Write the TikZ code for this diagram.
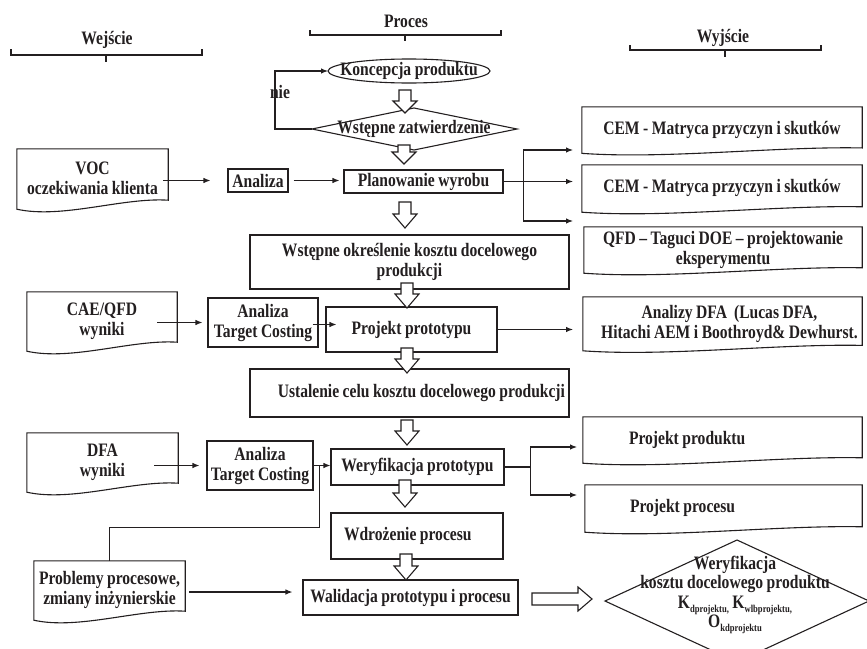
\documentclass[tikz,border=0pt]{standalone}
\usepackage{fontspec}
\setmainfont{Liberation Serif}[FakeStretch=0.82, WordSpace=0.9]
\usetikzlibrary{arrows.meta,calc,shapes.geometric}
\definecolor{ink}{HTML}{231F20}
\newcommand\sbb[1]{\raisebox{-0.45ex}{\fontsize{10.5}{10.5}\selectfont #1}}
% document outline with wavy bottom: #1 node name, #2 wave scale
\newcommand\docshape[2]{%
  \draw[line, line join=miter] ($(#1.south east)+(0,{-8*#2})$) -- (#1.north east) -- (#1.north west) -- ($(#1.south west)+(0,{1*#2})$)
  .. controls ($(#1.south west)!0.3!(#1.south east)+(0,{11*#2})$) and ($(#1.south west)!0.7!(#1.south east)+(0,{-11*#2})$) .. ($(#1.south east)+(0,{-8*#2})$) -- cycle;}
% hollow block arrow pointing down: x, top, tip, head length
\newcommand\blockdown[4]{%
  \draw[hollow] ({#1-6},#2) -- ({#1+6},#2) -- ({#1+6},{#3-#4}) -- ({#1+12},{#3-#4}) -- (#1,#3) -- ({#1-12},{#3-#4}) -- ({#1-6},{#3-#4}) -- cycle;}
\begin{document}
\begin{tikzpicture}[x=1pt,y=-1pt,
  font=\fontsize{19}{20}\selectfont\bfseries,
  every node/.style={text=ink},
  line/.style={draw=ink, line width=1.1pt},
  arr/.style={line, -{Latex[length=7pt,width=5.5pt]}},
  hollow/.style={draw=ink, line width=1.1pt, fill=white, line join=miter},
  brace/.style={draw=ink, line width=2.2pt},
  box/.style={line, fill=white, inner sep=2pt, align=center},
  docn/.style={inner sep=0pt, align=center}]
\useasboundingbox (0,0) rectangle (867,648);
\fill[white] (0,0) rectangle (867,648);
\clip (0,0) rectangle (867,648);

% headers
\node (hW) at (107,40) {Wejście};
\node (hP) at (406,21) {Proces};
\node (hY) at (723,38) {Wyjście};
\draw[brace] (11,49) -- (11,55) -- (202,55) -- (202,49);
\draw[brace] (106,55) -- (106,62);
\draw[brace] (310,30) -- (310,35) -- (501,35) -- (501,30);
\draw[brace] (405,35) -- (405,41);
\draw[brace] (630,45) -- (630,50) -- (821,50) -- (821,45);
\draw[brace] (725,50) -- (725,57);

% concept ellipse and approval diamond
\node (kon) at (409,71) {Koncepcja produktu};
\draw[line] (kon.center) ellipse [x radius=81, y radius=12];
\coordinate (konL) at ($(kon.center)+(-81,0)$);
\node (dz) at (414,129) {Wstępne zatwierdzenie};
\coordinate (dzL) at ($(dz.center)+(-102,0)$);
\draw[line, line join=miter] (dzL) -- ($(dz.center)+(0,-21)$) -- ($(dz.center)+(103,0)$) -- ($(dz.center)+(0,21)$) -- cycle;
\draw[arr] (dzL) -- ++(-37,0) |- (konL);
\node (nie) at (280,92) {nie};

% process boxes
\node[box, minimum width=60pt, minimum height=23pt, inner sep=1pt] (an) at (258,180.5) {Analiza};
\node[box, minimum width=159pt, minimum height=23pt] (plan) at (423.5,181.5) {Planowanie wyrobu};
\node[box, minimum width=319pt, minimum height=54pt] (wok) at (409.5,262) {Wstępne określenie kosztu docelowego\\produkcji};
\node[box, minimum width=110pt, minimum height=49pt, inner sep=1pt] (atc1) at (263,322.5) {Analiza\\Target Costing};
\node[box, minimum width=171pt, minimum height=45pt] (proj) at (411.5,329.5) {Projekt prototypu};
\node[box, minimum height=48pt, text width=311pt, inner xsep=4pt, align=flush right] (ust) at (409.5,393) {Ustalenie celu kosztu docelowego produkcji};
\node[box, minimum width=106pt, minimum height=49pt, inner sep=1pt] (atc2) at (260,465.5) {Analiza\\Target Costing};
\node[box, minimum width=173pt, minimum height=36pt] (wer) at (417.5,467) {Weryfikacja prototypu};
\node[box, minimum height=46pt, text width=146pt, inner xsep=13pt, align=flush left] (wdr) at (417,536) {Wdrożenie procesu};
\node[box, minimum width=215pt, minimum height=35pt] (wal) at (410.5,597.5) {Walidacja prototypu i procesu};

% input documents
\node[docn, minimum width=151pt, minimum height=59pt] (voc) at (92.5,178.5) {VOC\\oczekiwania klienta};
\node[docn, minimum width=150pt, minimum height=58pt] (cae) at (102,321) {CAE/QFD\\wyniki};
\node[docn, minimum width=151pt, minimum height=58pt] (dfa) at (102.5,462) {DFA\\wyniki};
\node[docn, minimum width=151pt, minimum height=58pt] (prob) at (109.5,590) {Problemy procesowe,\\zmiany inżynierskie};
\docshape{voc}{1}
\docshape{cae}{1}
\docshape{dfa}{1}
\docshape{prob}{1}

% output documents
\node[docn, minimum width=280pt, minimum height=45.5pt] (cem1) at (722,129.8) {CEM - Matryca przyczyn i skutków};
\node[docn, minimum width=280pt, minimum height=46.4pt] (cem2) at (722,188.2) {CEM - Matryca przyczyn i skutków};
\node[docn, minimum width=278pt, minimum height=45.4pt] (qfd) at (723,249.7) {QFD – Taguci DOE – projektowanie\\eksperymentu};
\node[docn, minimum width=279pt, minimum height=53pt] (dfaA) at (722.5,323.5) {\hspace*{14pt}Analizy DFA\ \ (Lucas DFA,\\\hspace*{14pt}Hitachi AEM i Boothroyd\&~Dewhurst.};
\node[docn, minimum height=45.4pt, text width=187pt, inner xsep=46pt, align=flush left] (pprod) at (722.5,439.7) {Projekt produktu};
\node[docn, minimum height=46.4pt, text width=187pt, inner xsep=45pt, align=flush left] (pproc) at (723.5,508.2) {Projekt procesu};
\docshape{cem1}{0.6}
\docshape{cem2}{0.6}
\docshape{qfd}{0.6}
\docshape{dfaA}{0.6}
\docshape{pprod}{0.6}
\docshape{pproc}{0.6}

% final verification diamond
\coordinate (vd) at (737,601);
\draw[line, line join=miter] ($(vd)+(-132,0)$) -- ($(vd)+(0,-61)$) -- ($(vd)+(132,0)$) -- ($(vd)+(0,61)$) -- cycle;
\node[align=center, font=\fontsize{19}{19.5}\selectfont\bfseries] (vk) at (735,595) {Weryfikacja\\kosztu docelowego produktu\\K\sbb{dprojektu,} K\sbb{wlbprojektu,}\\O\sbb{kdprojektu}};

% connectors
\draw[arr] ($(voc.east |- an.west)+(-5,0)$) -- ($(an.west)+(-17,0)$);
\draw[arr] ($(an.east)+(5,0)$) -- ($(an.east -| plan.west)+(-4,0)$);
\coordinate (sp1) at ($(plan.east)+(20,0)$);
\coordinate (o1) at (573,150);
\coordinate (o3) at (573,221);
\draw[line] (plan.east) -- (sp1);
\draw[arr] (sp1) |- (o1);
\draw[arr] (sp1) -- (sp1 -| o1);
\draw[arr] (sp1) |- (o3);
\draw[arr] ($(cae.east |- atc1.west)+(-20,0)$) -- ($(atc1.west)+(-5,0)$);
\draw[arr] ($(atc1.east)+(-6,2)$) -- ($(atc1.east -| proj.west)+(11,2)$);
\draw[arr] (proj.east) -- (proj.east -| o1);
\draw[arr] ($(dfa.east |- atc2.west)+(-24,0)$) -- ($(atc2.west)+(-7,0)$);
\coordinate (j2) at ($(atc2.east)+(6,0)$);
\draw[arr] (atc2.east) -- (atc2.east -| wer.west);
\draw[line] (prob.north) -- ++(0,-33) -| (j2);
\coordinate (sp2) at ($(wer.east)+(26,0)$);
\coordinate (o5) at (577,447);
\coordinate (o6) at (577,495);
\draw[line] (wer.east) -- (sp2);
\draw[arr] (sp2) |- (o5);
\draw[arr] (sp2) |- (o6);
\draw[arr] ($(prob.east)+(4,2)$) -- ($(prob.east -| wal.west)+(-10,2)$);

% hollow block arrows
\blockdown{405}{90}{113}{12}
\blockdown{404}{145}{164}{12}
\blockdown{405}{202}{228}{14}
\blockdown{407}{283}{308}{14}
\blockdown{407}{348}{373}{14}
\blockdown{407}{420}{445}{14}
\blockdown{405}{480}{507}{14}
\blockdown{406}{554}{580}{14}
\draw[hollow] (532,593) -- (578,593) -- (578,587) -- (592,599) -- (578,611) -- (578,605) -- (532,605) -- cycle;
\end{tikzpicture}
\end{document}
